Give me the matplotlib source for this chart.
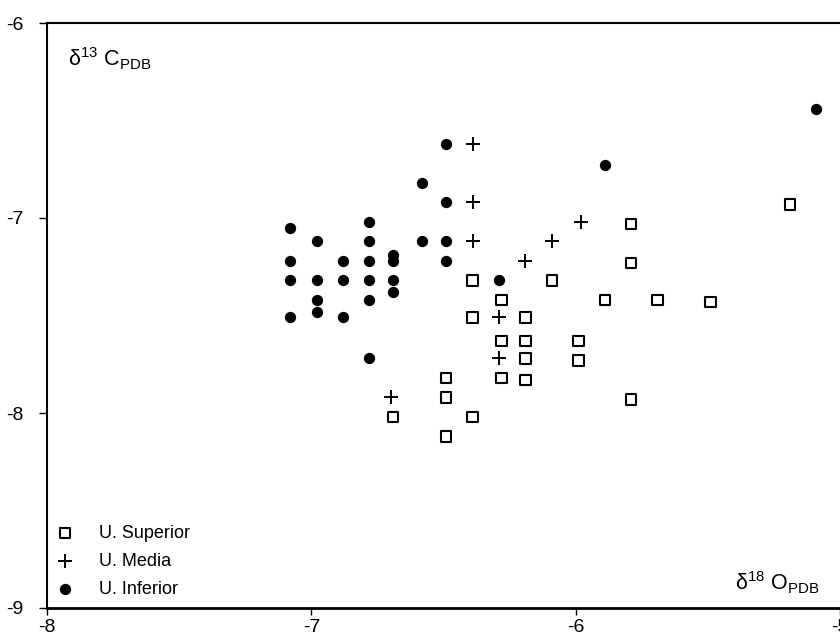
import matplotlib
matplotlib.use("Agg")
import matplotlib.pyplot as plt

# =========================================
# DATA
# =========================================

sup_x = [-6.39, -6.28, -6.39, -6.19, -6.28, -6.19, -5.99, -6.19, -5.99,
         -6.49, -6.28, -6.19, -6.49, -5.79, -6.69, -6.39, -6.49, -6.09,
         -5.79, -5.79, -5.89, -5.69, -5.49, -5.19]
sup_y = [-7.32, -7.42, -7.51, -7.51, -7.63, -7.63, -7.63, -7.72, -7.73,
         -7.82, -7.82, -7.83, -7.92, -7.93, -8.02, -8.02, -8.12, -7.32,
         -7.23, -7.03, -7.42, -7.42, -7.43, -6.93]

med_x = [-6.39, -6.39, -6.39, -6.09, -5.98, -6.19, -6.29, -6.29, -6.70]
med_y = [-6.62, -6.92, -7.12, -7.12, -7.02, -7.22, -7.51, -7.72, -7.92]

inf_x = [-6.49, -6.58, -6.49, -7.08, -6.78, -6.98, -6.78, -6.58, -6.49,
         -7.08, -6.88, -6.78, -6.69, -6.69, -6.49, -7.08, -6.98, -6.88,
         -6.78, -6.69, -6.29, -6.98, -6.78, -6.69, -6.98, -7.08, -6.88,
         -6.78, -5.89, -5.09]
inf_y = [-6.62, -6.82, -6.92, -7.05, -7.02, -7.12, -7.12, -7.12, -7.12,
         -7.22, -7.22, -7.22, -7.19, -7.22, -7.22, -7.32, -7.32, -7.32,
         -7.32, -7.32, -7.32, -7.42, -7.42, -7.38, -7.48, -7.51, -7.51,
         -7.72, -6.73, -6.44]

x_ticks = [-8, -7, -6, -5]
y_ticks = [-9, -8, -7, -6]

# =========================================
# STYLE
# =========================================

plt.rcParams['font.family'] = ['Liberation Sans', 'DejaVu Sans']
plt.rcParams['axes.unicode_minus'] = False
plt.rcParams['mathtext.fontset'] = 'custom'
plt.rcParams['mathtext.rm'] = 'Liberation Sans'
plt.rcParams['mathtext.it'] = 'Liberation Sans:italic'

W, H = 840, 641
fig = plt.figure(figsize=(W / 100, H / 100), dpi=100)
ax = fig.add_axes([47 / W, 33 / H, 793 / W, 585 / H])

# =========================================
# SCATTER
# =========================================

ax.scatter(sup_x, sup_y, marker='s', s=56, facecolors='none',
           edgecolors='black', linewidths=1.5, label='U. Superior', zorder=3)
ax.scatter(med_x, med_y, marker='+', s=95, color='black',
           linewidths=1.4, label='U. Media', zorder=3)
ax.scatter(inf_x, inf_y, marker='o', s=66, color='black',
           linewidths=0, label='U. Inferior', zorder=3)

ax.set_xlim(-8, -5)
ax.set_ylim(-9, -6)
ax.set_xticks(x_ticks)
ax.set_yticks(y_ticks)
ax.set_xticklabels([str(t) for t in x_ticks])
ax.set_yticklabels([str(t) for t in y_ticks])

ax.tick_params(axis='x', direction='out', length=5, width=1, pad=3,
               labelsize=14)
ax.tick_params(axis='y', direction='out', length=6, width=1, pad=11,
               labelsize=14)

ax.spines['right'].set_visible(False)
ax.spines['top'].set_linewidth(1.5)
ax.spines['left'].set_linewidth(1.5)
ax.spines['bottom'].set_linewidth(2)

# =========================================
# LEGEND AND AXIS NAMES
# =========================================

ax.legend(loc='lower left', bbox_to_anchor=(-0.009, -0.010), frameon=False,
          fontsize=13, handlelength=1.0, handletextpad=1.4,
          labelspacing=0.6, borderaxespad=0.5)

fig.text(68 / W, 1 - 66 / H, r'$\mathrm{\delta}^{13}\ \mathrm{C}_{\mathrm{PDB}}$',
         fontsize=15.5, va='baseline', ha='left')
fig.text(735 / W, 1 - 590 / H, r'$\mathrm{\delta}^{18}\ \mathrm{O}_{\mathrm{PDB}}$',
         fontsize=15.5, va='baseline', ha='left')

fig.savefig("out.png", dpi=100)
